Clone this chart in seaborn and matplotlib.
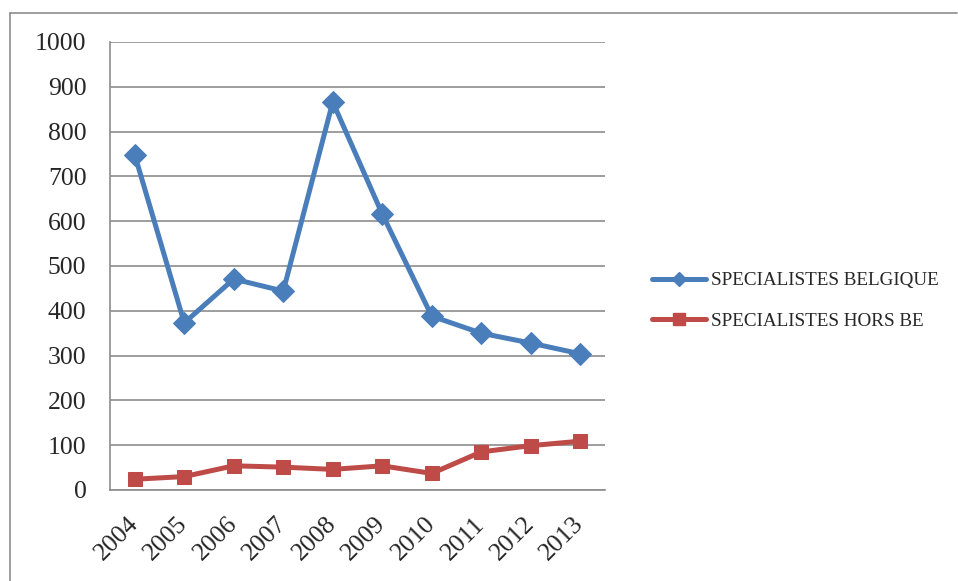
import numpy as np
import pandas as pd
import matplotlib
matplotlib.use("Agg")
import matplotlib.pyplot as plt
from matplotlib.lines import Line2D
import seaborn as sns

years = ["2004", "2005", "2006", "2007", "2008", "2009", "2010", "2011", "2012", "2013"]
belgique = [748, 373, 471, 444, 866, 616, 388, 350, 328, 304]
hors_be = [24, 30, 54, 51, 46, 54, 37, 85, 99, 109]
series_names = ["SPECIALISTES BELGIQUE", "SPECIALISTES HORS BE"]
y_ticks = [0, 100, 200, 300, 400, 500, 600, 700, 800, 900, 1000]

sns.set_style("white")
plt.rcParams["font.family"] = ["Liberation Serif", "DejaVu Serif"]

blue = "#4A7EBB"
red = "#BE4B48"
grid_c = "#8C8C8C"

fig = plt.figure(figsize=(9.58, 5.81), dpi=100)
ax = fig.add_axes([110 / 958, (581 - 490) / 581, 495 / 958, 448 / 581])

pos = np.arange(len(years))
df = pd.DataFrame({"pos": pos, "b": belgique, "h": hors_be})

sns.lineplot(data=df, x="pos", y="b", ax=ax, color=blue, lw=3.6,
             marker="D", markersize=11, markeredgecolor=blue, zorder=4)
sns.lineplot(data=df, x="pos", y="h", ax=ax, color=red, lw=3.6,
             marker="s", markersize=10.5, markeredgecolor=red, zorder=4)

ax.set_xlim(-0.5, len(years) - 0.5)
ax.set_ylim(0, 1000)
ax.set_yticks(y_ticks)
ax.set_yticklabels([str(t) for t in y_ticks], fontsize=18.5)
ax.yaxis.grid(True, color=grid_c, lw=1.2)
ax.set_axisbelow(True)

ax.set_xticks(np.arange(-0.5, len(years), 1.0))
ax.set_xticklabels([])
ax.set_xticks(pos, minor=True)
ax.set_xticklabels(years, minor=True, fontsize=18.5, rotation=45,
                   ha="right", va="center", rotation_mode="anchor")
ax.tick_params(axis="x", which="major", length=8, width=1.2, color=grid_c, direction="out")
ax.tick_params(axis="x", which="minor", length=0, pad=22)
ax.tick_params(axis="y", length=8, width=1.2, color=grid_c, direction="out", pad=9)
ax.set_xlabel("")
ax.set_ylabel("")

for s in ["top", "right"]:
    ax.spines[s].set_visible(False)
for s in ["left", "bottom"]:
    ax.spines[s].set_color(grid_c)
    ax.spines[s].set_linewidth(1.2)

handles = [
    Line2D([], [], color=blue, lw=3.6, marker="D", markersize=7, markeredgecolor=blue),
    Line2D([], [], color=red, lw=3.6, marker="s", markersize=8, markeredgecolor=red),
]
fig.legend(handles, series_names, loc="center left", bbox_to_anchor=(652 / 958, (581 - 301) / 581),
           frameon=False, fontsize=13.8, handlelength=2.8, handletextpad=0.26,
           labelspacing=1.2, borderpad=0, borderaxespad=0)

# outer chart frame (left and top edges)
fig.add_artist(Line2D([10 / 958, 10 / 958], [0, (581 - 13) / 581], color=grid_c, lw=1.2,
                      transform=fig.transFigure))
fig.add_artist(Line2D([10 / 958, 957 / 958], [(581 - 13) / 581, (581 - 13) / 581], color=grid_c,
                      lw=1.2, transform=fig.transFigure))

fig.savefig("out.png", dpi=100)
